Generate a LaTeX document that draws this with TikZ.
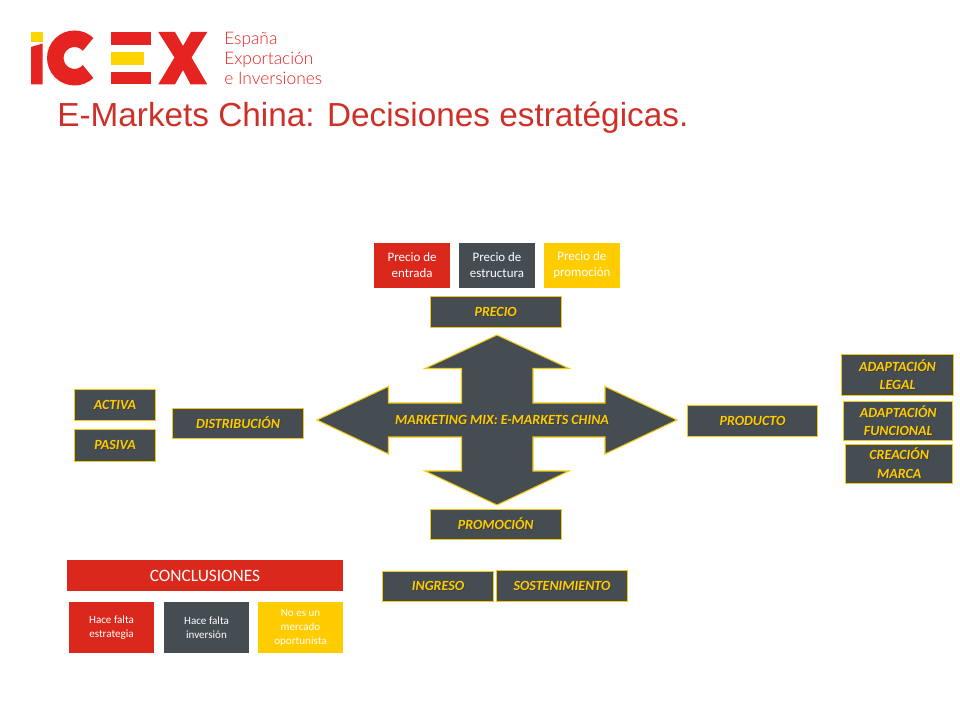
\documentclass[tikz,border=0pt]{standalone}
\usepackage{fontspec}
\setmainfont{Carlito}
\newfontfamily\titlefont{Liberation Sans}
\newfontfamily\logofont{Lato Light}
\usetikzlibrary{positioning}
\definecolor{icex_red}{HTML}{DA291C}
\definecolor{logo_red}{HTML}{E52320}
\definecolor{title_red}{HTML}{CE3028}
\definecolor{icex_yellow}{HTML}{FFCC00}
\definecolor{logo_yellow}{HTML}{FFD500}
\definecolor{edge_yellow}{HTML}{F2C811}
\definecolor{icex_dark}{HTML}{454C52}
\newcommand{\shadowed}[1]{\leavevmode\rlap{\kern0.7pt\raisebox{-0.7pt}{\textcolor{black!75}{#1}}}#1}

\begin{document}
\begin{tikzpicture}[
                        x=0.75pt, y=-0.75pt,
                        mix/.style={draw=edge_yellow, fill=icex_dark, line width=0.8pt, text=icex_yellow, inner sep=0pt, align=center, font=\fontsize{10.5}{14}\selectfont\bfseries\itshape},
                        widebox/.style={mix, minimum width=98pt, minimum height=23pt},
                        shortbox/.style={mix, minimum width=60.5pt, minimum height=23.5pt},
                        flat/.style={text=white, inner sep=0pt, align=center, font=\fontsize{9.7}{12}\selectfont},
                        pricebox/.style={flat, minimum width=56.5pt, minimum height=34pt},
                        endbox/.style={flat, minimum width=64pt, minimum height=38.5pt, font=\fontsize{8.3}{10.5}\selectfont},
                        node distance=6.75pt,
                    ]
                        \useasboundingbox (0,0) rectangle (960,720);

                        % logo
                        \fill[logo_yellow] (31,32) rectangle (42.7,42.3);
                        \fill[logo_red] (31,47) -- (42.7,43.5) -- (42.7,84.3) -- (31,84.3) -- cycle;
                        \draw[logo_red, line width=12.4pt] (88.1,44.4) arc[start angle=45, end angle=315, radius=14.4pt];
                        \fill[logo_red] (111,32) rectangle (150.7,45);
                        \fill[logo_yellow] (111,51.7) rectangle (144,65);
                        \fill[logo_red] (111,72) rectangle (150.7,84.3);
                        \fill[logo_red] (158.3,32) -- (175,32) -- (183,46) -- (191,32) -- (207.3,32) -- (191.5,57.5) -- (207.3,84.3) -- (190.5,84.3) -- (183,70) -- (175,84.3) -- (158.3,84.3) -- (174.5,57.5) -- cycle;
                        \node[logo_red, inner sep=0pt, anchor=base west, font=\logofont\fontsize{13}{15}\selectfont] (logo1) at (224,45) {España};
                        \node[logo_red, inner sep=0pt, anchor=base west, font=\logofont\fontsize{13}{15}\selectfont] (logo2) at (224,65) {Exportación};
                        \node[logo_red, inner sep=0pt, anchor=base west, font=\logofont\fontsize{13}{15}\selectfont] (logo3) at (224,85) {e Inversiones};
                        \node[title_red, inner sep=0pt, anchor=base west, font=\titlefont\fontsize{25}{30}\selectfont] (title) at (57,127) {E-Markets China: Decisiones estratégicas.};

                        % nodes
                        \draw[draw=edge_yellow, fill=icex_dark, line width=0.8pt] (497,335) -- (569,368.5) -- (533,368.5) -- (533,403) -- (605,403) -- (605,386.5) -- (677,420) -- (605,454) -- (605,437) -- (533,437) -- (533,471) -- (569,471) -- (497,505) -- (425,471) -- (461.5,471) -- (461.5,437) -- (388.5,437) -- (388.5,454) -- (317,420) -- (388.5,386.5) -- (388.5,403) -- (461.5,403) -- (461.5,368.5) -- (425,368.5) -- cycle;
                        \node[text=icex_yellow, inner sep=0pt, font=\fontsize{10.5}{14}\selectfont\bfseries\itshape] (marketing_mix) at (502,420) {\shadowed{MARKETING MIX: E-MARKETS CHINA}};

                        \node[widebox] (precio) at (495.7,312) {\shadowed{PRECIO}};
                        \node[widebox] (promocion) at (495.7,524.5) {\shadowed{PROMOCIÓN}};
                        \node[widebox] (producto) at (752.5,421) {\shadowed{PRODUCTO}};
                        \node[widebox] (distribucion) at (238,423.5) {\shadowed{DISTRIBUCIÓN}};
                        \node[shortbox] (activa) at (115,405) {\shadowed{ACTIVA}};
                        \node[shortbox] (pasiva) [below=6pt of activa] {\shadowed{PASIVA}};

                        \node[mix, minimum width=83.5pt, minimum height=31pt] (legal) at (897.5,375.2) {\shadowed{ADAPTACIÓN}\\\shadowed{LEGAL}};
                        \node[mix, minimum width=82pt, minimum height=29pt] (funcional) at (898.2,421) {\shadowed{ADAPTACIÓN}\\\shadowed{FUNCIONAL}};
                        \node[mix, minimum width=80.5pt, minimum height=29pt] (marca) at (899.2,463.7) {\shadowed{CREACIÓN}\\\shadowed{MARCA}};

                        \node[mix, minimum width=83pt, minimum height=23pt] (ingreso) at (438,586.5) {\shadowed{INGRESO}};
                        \node[widebox, minimum height=23.5pt] (sostenimiento) at (562,586.2) {\shadowed{SOSTENIMIENTO}};

                        \node[pricebox, fill=icex_dark] (estructura) at (497,265.5) {Precio de\\estructura};
                        \node[pricebox, fill=icex_red] (entrada) [left=of estructura] {Precio de\\entrada};
                        \node[pricebox, fill=icex_yellow] (promocion_precio) [right=of estructura] {Precio de\\promoción};

                        % conclusions
                        \node[flat, fill=icex_red, minimum width=207pt, minimum height=23.25pt, font=\fontsize{13}{15}\selectfont] (conclusiones) at (205,575.5) {CONCLUSIONES};
                        \node[endbox, fill=icex_red] (estrategia) at (111.5,627.5) {Hace falta\\estrategia};
                        \node[endbox, fill=icex_dark] (inversion) at (206.5,627.5) {Hace falta\\inversión};
                        \node[endbox, fill=icex_yellow] (oportunista) at (300.5,627.5) {No es un\\mercado\\oportunista};
                    \end{tikzpicture}
\end{document}
